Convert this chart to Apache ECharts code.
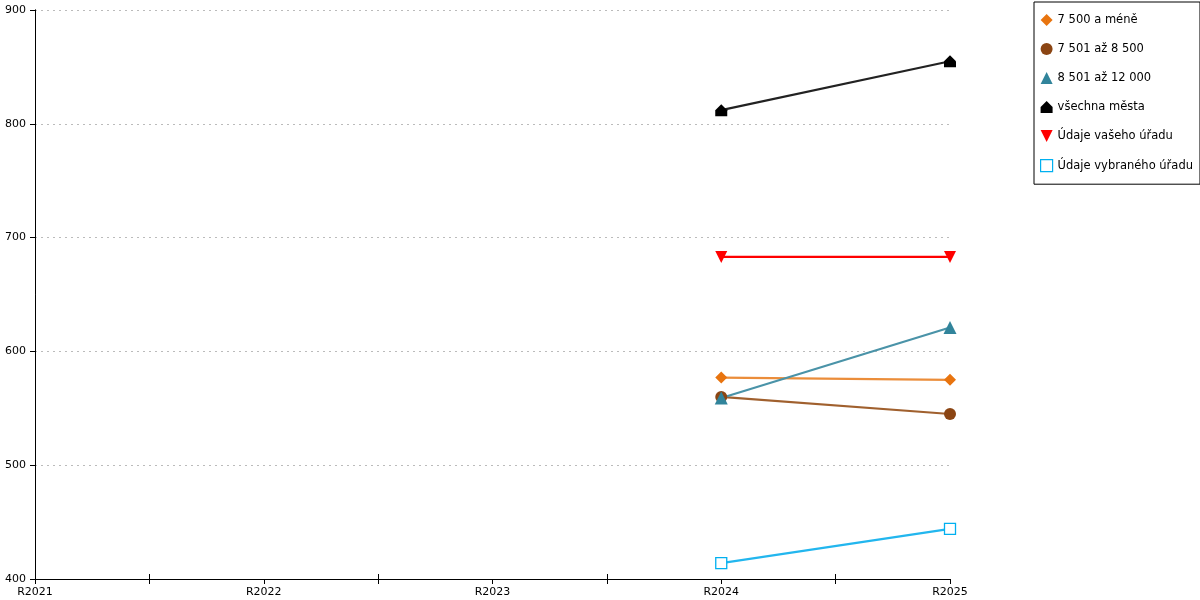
<!DOCTYPE html>
<html><head><meta charset="utf-8">
<script src="https://cdn.jsdelivr.net/npm/echarts@6/dist/echarts.min.js"></script>
<style>html,body{margin:0;padding:0;background:#fff}#c{width:1200px;height:600px}</style>
</head><body><div id="c"></div>
<script>
const categories = ['R2021','R2022','R2023','R2024','R2025'];
const s7500 = [null,null,null,577,575];
const s8500 = [null,null,null,560,545];
const s12000 = [null,null,null,559,621];
const sAll = [null,null,null,812,855];
const sVas = [null,null,null,683,683];
const sVyb = [null,null,null,414,444];
const yTicks = [400,500,600,700,800,900];

const toPts = arr => arr.map((v,i)=>[i,v]).filter(p=>p[1]!=null);
const house = 'path://M5,0 L10,5 L10,10 L0,10 L0,5 Z';
const downTri = 'path://M0,0 L10,0 L5,10 Z';
const FONT = 'DejaVu Sans';

const defs = [
  {name:'7 500 a méně', data:s7500, color:'#E8740F', line:'#EB8D3A', symbol:'diamond', size:12},
  {name:'7 501 až 8 500', data:s8500, color:'#8B4513', line:'#A0602E', symbol:'circle', size:12},
  {name:'8 501 až 12 000', data:s12000, color:'#31849B', line:'#4A93A8', symbol:'triangle', size:13},
  {name:'všechna města', data:sAll, color:'#000000', line:'#222222', symbol:house, size:12},
  {name:'Údaje vašeho úřadu', data:sVas, color:'#FF0000', line:'#FF0000', symbol:downTri, size:12},
  {name:'Údaje vybraného úřadu', data:sVyb, color:'#00B0F0', line:'#22B6EE', symbol:'rect', size:11, empty:true},
];

const series = defs.map(d=>({
  name:d.name, type:'line', data:toPts(d.data),
  symbol:d.symbol, symbolSize:d.size, showSymbol:true,
  lineStyle:{color:d.line, width:2.2},
  itemStyle: d.empty ? {color:'#fff', borderColor:d.color, borderWidth:1.3} : {color:d.color, borderWidth:0},
  z: d.empty?3:2,
  animation:false
}));

const midTicks = categories.slice(1).map((c,i)=>i+0.5);

const chart = echarts.init(document.getElementById('c'));
chart.setOption({
  animation:false,
  textStyle:{fontFamily:FONT},
  grid:{left:35,right:250,top:10,bottom:21,containLabel:false},
  xAxis:[{type:'value', min:0, max:categories.length-1, interval:1,
    axisLine:{lineStyle:{color:'#000',width:1}},
    axisTick:{show:true,length:5,lineStyle:{color:'#000'}},
    axisLabel:{color:'#000',fontFamily:FONT,fontSize:11,margin:8,hideOverlap:false,showMinLabel:true,showMaxLabel:true,
      formatter:v=>categories[v]},
    splitLine:{show:false}},
   {type:'value', position:'bottom', min:0, max:categories.length-1,
    axisLine:{show:false},
    axisTick:{show:true,inside:true,length:5,customValues:midTicks,lineStyle:{color:'#000'}},
    axisLabel:{show:false}, splitLine:{show:false}},
   {type:'value', position:'bottom', min:0, max:categories.length-1,
    axisLine:{show:false},
    axisTick:{show:true,inside:false,length:5,customValues:midTicks,lineStyle:{color:'#000'}},
    axisLabel:{show:false}, splitLine:{show:false}}],
  yAxis:[{type:'value', min:yTicks[0], max:yTicks[yTicks.length-1], interval:100,
    axisLine:{show:true,lineStyle:{color:'#000'}},
    axisTick:{show:true,length:5,lineStyle:{color:'#000'}},
    axisLabel:{color:'#000',fontFamily:FONT,fontSize:11,margin:9},
    splitLine:{show:true,lineStyle:{color:'#bbb',type:[2,4],width:1}}},
   {type:'value', position:'right', min:yTicks[0], max:yTicks[yTicks.length-1], interval:100,
    axisLine:{show:true,lineStyle:{color:'#000'}},
    axisTick:{show:false}, axisLabel:{show:false}, splitLine:{show:false}}],
  legend:{orient:'vertical', left:1034, top:2,
    borderColor:'#000', borderWidth:1, padding:[12,7,12,6],
    itemGap:17, itemWidth:12, itemHeight:12,
    textStyle:{fontFamily:FONT,fontSize:11.5,color:'#000'},
    data:defs.map(d=>({name:d.name, icon:d.symbol,
      itemStyle: d.empty?{color:'#fff',borderColor:d.color,borderWidth:1.2}:{color:d.color}}))},
  series:series
});
</script></body></html>
